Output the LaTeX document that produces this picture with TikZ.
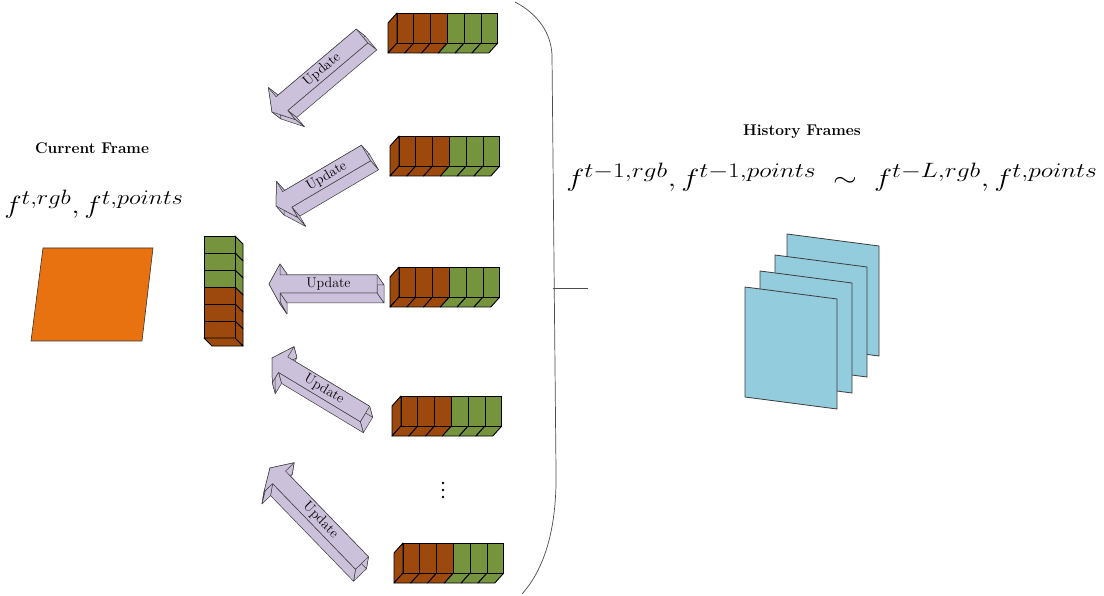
\documentclass[tikz,border=0pt]{standalone}
\usepackage{graphicx}
\usetikzlibrary{calc}
\definecolor{brownc}{RGB}{157,73,13}
\definecolor{greenc}{RGB}{118,147,62}
\definecolor{orangec}{RGB}{233,114,16}
\definecolor{bluec}{RGB}{147,205,221}
\definecolor{lavc}{RGB}{204,193,218}
\definecolor{edgec}{RGB}{60,60,60}

% formulas are set a little wider than natural
\newcommand\wideeq[2]{\scalebox{#1}[1]{$#2$}}

% horizontal strip of six cells seen from the front, depth going down-left
\newcommand\cellbar[3]{%
  \begin{scope}[shift={(#1,#2)}]
    \draw[barline,fill=brownc] (0,0) -- (-9,10) -- (-9,40) -- (0,30) -- cycle;
    \foreach \i/\c in {0/brownc,1/brownc,2/brownc,3/greenc,4/greenc,5/greenc}{
      \draw[barline,fill=\c] ({\i*16.8},30) -- ({(\i+1)*16.8},30) -- ({(\i+1)*16.8-9},40) -- ({\i*16.8-9},40) -- cycle;
      \draw[barline,fill=\c] ({\i*16.8},0) rectangle ({(\i+1)*16.8},30);
    }
    \coordinate (#3) at (50,15);
  \end{scope}}

% extruded block arrow: #1 tail, #2 tip, #3/#4 depth offset, #5 half shaft, #6 half head, #7 head length, #8 label name
\newcommand\blockarrow[8]{%
  \coordinate (aT) at #1;
  \coordinate (aP) at #2;
  \coordinate (aH) at ($(aP)!#7pt!(aT)$);
  \coordinate (v1) at ($(aT)!#5pt!90:(aP)$);
  \coordinate (v2) at ($(aH)!#5pt!-90:(aT)$);
  \coordinate (v3) at ($(aH)!#6pt!-90:(aT)$);
  \coordinate (v4) at (aP);
  \coordinate (v5) at ($(aH)!#6pt!90:(aT)$);
  \coordinate (v6) at ($(aH)!#5pt!90:(aT)$);
  \coordinate (v7) at ($(aT)!#5pt!-90:(aP)$);
  \foreach \i/\j in {7/1,1/2,6/7,2/3,5/6,3/4,4/5}
    \draw[arrowface] (v\i) -- (v\j) -- ($(v\j)+(#3,#4)$) -- ($(v\i)+(#3,#4)$) -- cycle;
  \draw[arrowface] (v1) -- (v2) -- (v3) -- (v4) -- (v5) -- (v6) -- (v7) -- cycle;
  \path (aH) -- (aT) node[midway,sloped,upd] (#8) {Update};
}

\begin{document}
\begin{tikzpicture}[x=1pt,y=-1pt,
  barline/.style={draw=black,line width=0.9pt,line join=round},
  arrowface/.style={draw=edgec,fill=lavc,line width=0.5pt,line join=round},
  sheetline/.style={draw=edgec,fill=bluec,line width=0.8pt,line join=round},
  bracel/.style={draw=black!70,line width=0.7pt},
  upd/.style={font=\fontsize{14}{15}\selectfont,inner sep=0pt},
  ttl/.style={font=\fontsize{15.5}{17}\selectfont\bfseries,inner sep=0pt},
  eq/.style={font=\fontsize{30}{32}\selectfont,inner sep=0pt,anchor=base}]
\fill[white] (0,0) rectangle (1104,596);
\useasboundingbox (0,0) rectangle (1104,596);

% current frame
\node[ttl] (curtitle) at (92,148) {Current Frame};
\node[eq] (cureq) at (94,214) {\wideeq{1.18}{f^{t,rgb}, f^{t,points}}};
\draw[draw=black!80,fill=orangec,line width=0.6pt] (43,248) -- (153,248) -- (142,341) -- (31,341) -- cycle;

% vertical strip of the current frame
\begin{scope}[shift={(204,236)}]
  \foreach \i/\c in {0/greenc,1/greenc,2/greenc,3/brownc,4/brownc,5/brownc}{
    \draw[barline,fill=\c] (31,{\i*17}) -- (39,{\i*17+8}) -- (39,{(\i+1)*17+8}) -- (31,{(\i+1)*17}) -- cycle;
    \draw[barline,fill=\c] (0,{\i*17}) rectangle (31,{(\i+1)*17});
  }
  \draw[barline,fill=brownc] (0,102) -- (31,102) -- (39,110) -- (8,110) -- cycle;
\end{scope}

% history strips
\cellbar{397}{13}{bar1}
\cellbar{399}{136}{bar2}
\cellbar{399}{267}{bar3}
\cellbar{401}{396}{bar4}
\cellbar{403}{543}{bar5}

% update arrows
\blockarrow{(362,36)}{(272,112)}{9}{7}{9}{21}{13}{up1}
\blockarrow{(366,153)}{(276,206)}{8}{9}{9}{21}{13}{up2}
\blockarrow{(377,284)}{(269,284)}{7}{10}{9}{20}{11}{up3}
\blockarrow{(365,414)}{(272,358)}{3}{11}{9}{21}{13}{up4}
\blockarrow{(362,563)}{(270,468)}{-2}{12}{9}{21}{13}{up5}

% vertical ellipsis
\fill (443,483) circle (1.4);
\fill (443,490) circle (1.4);
\fill (443,497) circle (1.4);

% bracket
\draw[bracel] (515,2) .. controls (538,14) and (551,33) .. (552,55) -- (556,470) .. controls (557,520) and (548,565) .. (522,594);
\draw[bracel] (553,288) -- (588,288);

% history frames
\node[ttl] (histitle) at (802,132) {History Frames};
\node[eq] (histeq) at (832,187) {\wideeq{1.23}{f^{t-1,rgb}, f^{t-1,points}\;\sim\;f^{t-L,rgb}, f^{t,points}}};
\draw[sheetline] (787,234) -- ++(92,12) -- ++(0,110) -- ++(-92,-12) -- cycle;
\draw[sheetline] (775,255) -- ++(92,12) -- ++(0,110) -- ++(-92,-12) -- cycle;
\draw[sheetline] (760,271) -- ++(92,12) -- ++(0,110) -- ++(-92,-12) -- cycle;
\draw[sheetline] (745,287) -- ++(92,12) -- ++(0,110) -- ++(-92,-12) -- cycle;
\end{tikzpicture}
\end{document}
